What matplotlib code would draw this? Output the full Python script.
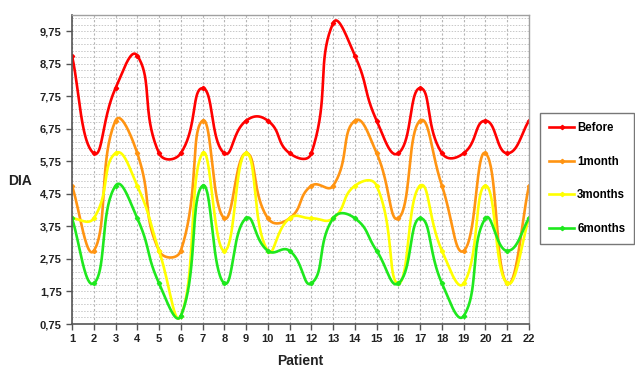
import numpy as np
import matplotlib
matplotlib.use("Agg")
import matplotlib.pyplot as plt
from matplotlib.ticker import FixedLocator, MultipleLocator, FuncFormatter
from matplotlib.lines import Line2D

# data
patients = list(range(1, 23))
before = [9, 6, 8, 9, 6, 6, 8, 6, 7, 7, 6, 6, 10, 9, 7, 6, 8, 6, 6, 7, 6, 7]
month1 = [5, 3, 7, 6, 3, 3, 7, 4, 6, 4, 4, 5, 5, 7, 6, 4, 7, 5, 3, 6, 2, 5]
months3 = [4, 4, 6, 5, 3, 1, 6, 3, 6, 3, 4, 4, 4, 5, 5, 2, 5, 3, 2, 5, 2, 4]
months6 = [4, 2, 5, 4, 2, 1, 5, 2, 4, 3, 3, 2, 4, 4, 3, 2, 4, 2, 1, 4, 3, 4]

series = [("Before", before, "#ff0000"),
          ("1month", month1, "#ff9412"),
          ("3months", months3, "#ffff00"),
          ("6months", months6, "#1ee81e")]


def smooth(ax, x, y, n=40, t=0.5):
    # Excel-like smoothed line: bezier segments, control points computed in screen space
    pts = ax.transData.transform(np.column_stack([x, y]).astype(float))
    k = len(pts)
    c_out = np.zeros_like(pts)
    c_in = np.zeros_like(pts)
    for i in range(k):
        if i == 0:
            c_out[i] = pts[0] + (pts[1] - pts[0]) / 3
            continue
        if i == k - 1:
            c_in[i] = pts[i] - (pts[i] - pts[i - 1]) / 3
            continue
        d = pts[i + 1] - pts[i - 1]
        a = np.hypot(*(pts[i] - pts[i - 1]))
        b = np.hypot(*(pts[i + 1] - pts[i]))
        c_in[i] = pts[i] - d * t * a / (a + b)
        c_out[i] = pts[i] + d * t * b / (a + b)
    s = np.linspace(0, 1, n)[:, None]
    out = []
    for i in range(k - 1):
        p0, p1, p2, p3 = pts[i], c_out[i], c_in[i + 1], pts[i + 1]
        seg = ((1 - s) ** 3) * p0 + 3 * ((1 - s) ** 2) * s * p1 + 3 * (1 - s) * s**2 * p2 + s**3 * p3
        out.append(seg)
    out = np.vstack(out)
    xy = ax.transData.inverted().transform(out)
    return xy[:, 0], xy[:, 1]


plt.rcParams['font.family'] = ['Liberation Sans', 'DejaVu Sans']

fig = plt.figure(figsize=(6.35, 3.7), dpi=100)
ax = fig.add_axes([72 / 635, 1 - 324 / 370, (529 - 72) / 635, (324 - 15) / 370])

ax.set_xlim(1, 22)
ax.set_ylim(0.75, 10.25)

# grid
ax.yaxis.set_major_locator(FixedLocator(np.arange(0.75, 10.0, 1.0)))
ax.yaxis.set_minor_locator(FixedLocator(np.arange(0.75, 10.3, 0.2)))
ax.xaxis.set_major_locator(MultipleLocator(1))
ax.grid(which='minor', axis='y', color='#c8c8c8', linestyle=(0, (1.5, 1.5)), linewidth=0.7)
ax.grid(which='major', axis='y', color='#c8c8c8', linestyle=(0, (1.5, 1.5)), linewidth=0.7)
ax.grid(which='major', axis='x', color='#b4b4b4', linestyle=(0, (2, 2)), linewidth=0.8)
ax.set_axisbelow(True)

for name, vals, col in series:
    sx, sy = smooth(ax, patients, vals)
    ax.plot(sx, sy, color=col, lw=1.9, solid_capstyle='round')
    ax.plot(patients, vals, ls='none', marker='D', ms=2.2, color=col)

ax.yaxis.set_major_formatter(FuncFormatter(lambda v, p: ("%.2f" % v).replace('.', ',')))
ax.tick_params(axis='both', which='major', direction='out', length=4, width=1,
               color='#555555', labelsize=8, labelcolor='#222222')
ax.tick_params(axis='y', which='minor', length=0)
for lab in ax.get_xticklabels() + ax.get_yticklabels():
    lab.set_fontweight('bold')

for s in ['top', 'right']:
    ax.spines[s].set_color('#a0a0a0')
    ax.spines[s].set_linewidth(1)
for s in ['left', 'bottom']:
    ax.spines[s].set_color('#555555')
    ax.spines[s].set_linewidth(1.2)

fig.text(300 / 635, 1 - 361 / 370, "Patient", ha='center', va='center',
         fontsize=10, fontweight='bold', color='#222222')
fig.text(20 / 635, 1 - 181 / 370, "DIA", ha='center', va='center',
         fontsize=10, fontweight='bold', color='#222222')

handles = [Line2D([], [], color=c, lw=1.9, marker='D', ms=2.2) for _, _, c in series]
leg = fig.legend(handles, [s[0] for s in series], loc='upper right',
                 bbox_to_anchor=(634 / 635, 1 - 113 / 370), borderaxespad=0, frameon=True,
                 fancybox=False, handlelength=2.2, handletextpad=0.25,
                 labelspacing=1.9, borderpad=0.75, prop={'weight': 'bold', 'size': 8.3})
leg.get_frame().set_edgecolor('#555555')
leg.get_frame().set_linewidth(1)

fig.savefig("out.png", dpi=100)
